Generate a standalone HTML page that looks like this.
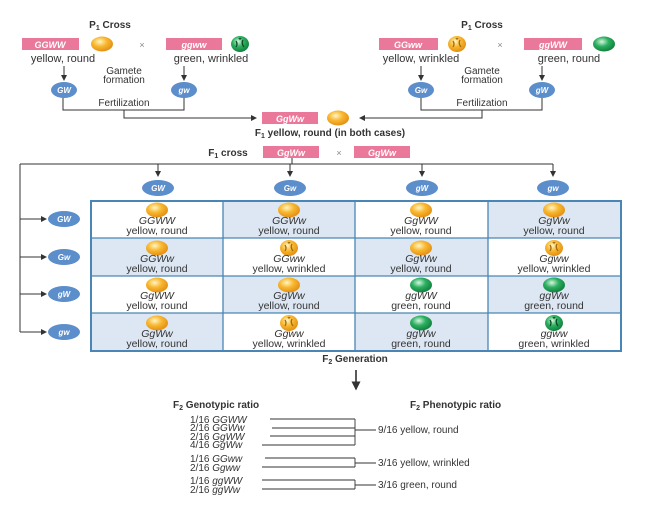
<!DOCTYPE html>
<html><head><meta charset="utf-8"><style>
body{margin:0;background:#fff;}
svg text{font-family:"Liberation Sans",sans-serif;fill:#333;}
</style></head><body>
<svg width="661" height="507" viewBox="0 0 661 507" xmlns="http://www.w3.org/2000/svg">
<defs>
<radialGradient id="y" cx="0.4" cy="0.35" r="0.7"><stop offset="0" stop-color="#fff6c8"/><stop offset="0.45" stop-color="#f9b830"/><stop offset="1" stop-color="#e08a10"/></radialGradient>
<radialGradient id="g" cx="0.4" cy="0.35" r="0.7"><stop offset="0" stop-color="#d8f5e0"/><stop offset="0.45" stop-color="#2cb060"/><stop offset="1" stop-color="#0d7a3a"/></radialGradient>
<marker id="a" markerWidth="6" markerHeight="6" refX="5" refY="3" orient="auto"><path d="M0,0L6,3L0,6z" fill="#333"/></marker>
<g id="py"><ellipse rx="11" ry="7.5" fill="url(#y)"/></g>
<g id="pg"><ellipse rx="11" ry="7.5" fill="url(#g)"/></g>
<g id="pyw"><ellipse rx="9" ry="8" fill="url(#y)"/><path d="M-4,-3q2,3 0,6M3,-4q-2,3 1,7M-1,-6q1,2 2,0" stroke="#a06a10" stroke-width="1.3" fill="none"/></g>
<g id="pgw"><ellipse rx="9" ry="8" fill="url(#g)"/><path d="M-4,-3q2,3 0,6M3,-4q-2,3 1,7M-1,-6q1,2 2,0" stroke="#0a4a22" stroke-width="1.3" fill="none"/></g>
</defs>
<g font-size="11" text-anchor="middle">
<!-- left P1 -->
<text x="110" y="28" font-weight="bold" font-size="10">P<tspan font-size="7" dy="2">1</tspan><tspan dy="-2"> Cross</tspan></text>
<rect x="22" y="38" width="57" height="12" fill="#e9789a"/><text x="50" y="48" fill="#fff" style="fill:#fff" font-weight="bold" font-style="italic" font-size="9">GGWW</text>
<use href="#py" x="102" y="44"/>
<text x="142" y="48" font-size="9" style="fill:#888">×</text>
<rect x="166" y="38" width="56" height="12" fill="#e9789a"/><text x="194" y="48" style="fill:#fff" font-weight="bold" font-style="italic" font-size="9">ggww</text>
<use href="#pgw" x="240" y="44"/>
<text x="63" y="62">yellow, round</text>
<text x="211" y="62">green, wrinkled</text>
<line x1="64" y1="66" x2="64" y2="80" stroke="#333" marker-end="url(#a)"/>
<line x1="184" y1="66" x2="184" y2="80" stroke="#333" marker-end="url(#a)"/>
<text x="124" y="74" font-size="10">Gamete</text><text x="124" y="83" font-size="10">formation</text>
<ellipse cx="64" cy="90" rx="13" ry="8" fill="#5b8ecb"/><text x="64" y="93" style="fill:#fff" font-weight="bold" font-style="italic" font-size="8">GW</text>
<ellipse cx="184" cy="90" rx="13" ry="8" fill="#5b8ecb"/><text x="184" y="93" style="fill:#fff" font-weight="bold" font-style="italic" font-size="8">gw</text>
<text x="124" y="106" font-size="10">Fertilization</text>
<path d="M63,98V110H184V98M124,110V118H256" stroke="#333" fill="none" marker-end="url(#a)"/>
<!-- right P1 -->
<text x="482" y="28" font-weight="bold" font-size="10">P<tspan font-size="7" dy="2">1</tspan><tspan dy="-2"> Cross</tspan></text>
<rect x="379" y="38" width="59" height="12" fill="#e9789a"/><text x="408" y="48" style="fill:#fff" font-weight="bold" font-style="italic" font-size="9">GGww</text>
<use href="#pyw" x="457" y="44"/>
<text x="500" y="48" font-size="9" style="fill:#888">×</text>
<rect x="524" y="38" width="58" height="12" fill="#e9789a"/><text x="553" y="48" style="fill:#fff" font-weight="bold" font-style="italic" font-size="9">ggWW</text>
<use href="#pg" x="604" y="44"/>
<text x="421" y="62">yellow, wrinkled</text>
<text x="569" y="62">green, round</text>
<line x1="421" y1="66" x2="421" y2="80" stroke="#333" marker-end="url(#a)"/>
<line x1="542" y1="66" x2="542" y2="80" stroke="#333" marker-end="url(#a)"/>
<text x="482" y="74" font-size="10">Gamete</text><text x="482" y="83" font-size="10">formation</text>
<ellipse cx="421" cy="90" rx="13" ry="8" fill="#5b8ecb"/><text x="421" y="93" style="fill:#fff" font-weight="bold" font-style="italic" font-size="8">Gw</text>
<ellipse cx="542" cy="90" rx="13" ry="8" fill="#5b8ecb"/><text x="542" y="93" style="fill:#fff" font-weight="bold" font-style="italic" font-size="8">gW</text>
<text x="482" y="106" font-size="10">Fertilization</text>
<path d="M421,98V110H542V98M482,110V118H360" stroke="#333" fill="none" marker-end="url(#a)"/>
<!-- F1 -->
<rect x="262" y="112" width="56" height="12" fill="#e9789a"/><text x="290" y="122" style="fill:#fff" font-weight="bold" font-style="italic" font-size="9">GgWw</text>
<use href="#py" x="338" y="118"/>
<text x="330" y="136" font-weight="bold" font-size="10">F<tspan font-size="7" dy="2">1</tspan><tspan dy="-2"> yellow, round (in both cases)</tspan></text>
<text x="228" y="156" font-weight="bold" font-size="10">F<tspan font-size="7" dy="2">1</tspan><tspan dy="-2"> cross</tspan></text>
<rect x="263" y="146" width="56" height="12" fill="#e9789a"/><text x="291" y="156" style="fill:#fff" font-weight="bold" font-style="italic" font-size="9">GgWw</text>
<text x="339" y="156" font-size="9" style="fill:#888">×</text>
<rect x="354" y="146" width="56" height="12" fill="#e9789a"/><text x="382" y="156" style="fill:#fff" font-weight="bold" font-style="italic" font-size="9">GgWw</text>
<path d="M292,158V164M20,164H553M20,164V332" stroke="#333" fill="none"/>
<g stroke="#333">
<line x1="158" y1="164" x2="158" y2="176" marker-end="url(#a)"/>
<line x1="290" y1="164" x2="290" y2="176" marker-end="url(#a)"/>
<line x1="422" y1="164" x2="422" y2="176" marker-end="url(#a)"/>
<line x1="553" y1="164" x2="553" y2="176" marker-end="url(#a)"/>
<line x1="20" y1="219" x2="46" y2="219" marker-end="url(#a)"/>
<line x1="20" y1="257" x2="46" y2="257" marker-end="url(#a)"/>
<line x1="20" y1="294" x2="46" y2="294" marker-end="url(#a)"/>
<line x1="20" y1="332" x2="46" y2="332" marker-end="url(#a)"/>
</g>
<g font-weight="bold" font-style="italic" font-size="8">
<ellipse cx="158" cy="188" rx="16" ry="8" fill="#5b8ecb"/><text x="158" y="191" style="fill:#fff">GW</text>
<ellipse cx="290" cy="188" rx="16" ry="8" fill="#5b8ecb"/><text x="290" y="191" style="fill:#fff">Gw</text>
<ellipse cx="422" cy="188" rx="16" ry="8" fill="#5b8ecb"/><text x="422" y="191" style="fill:#fff">gW</text>
<ellipse cx="553" cy="188" rx="16" ry="8" fill="#5b8ecb"/><text x="553" y="191" style="fill:#fff">gw</text>
<ellipse cx="64" cy="219" rx="16" ry="8" fill="#5b8ecb"/><text x="64" y="222" style="fill:#fff">GW</text>
<ellipse cx="64" cy="257" rx="16" ry="8" fill="#5b8ecb"/><text x="64" y="260" style="fill:#fff">Gw</text>
<ellipse cx="64" cy="294" rx="16" ry="8" fill="#5b8ecb"/><text x="64" y="297" style="fill:#fff">gW</text>
<ellipse cx="64" cy="332" rx="16" ry="8" fill="#5b8ecb"/><text x="64" y="335" style="fill:#fff">gw</text>
</g>
<!-- grid -->
<g fill="#dde7f3">
<rect x="223" y="201" width="132" height="37"/><rect x="488" y="201" width="133" height="37"/>
<rect x="91" y="238" width="132" height="38"/><rect x="355" y="238" width="133" height="38"/>
<rect x="223" y="276" width="132" height="37"/><rect x="488" y="276" width="133" height="37"/>
<rect x="91" y="313" width="132" height="38"/><rect x="355" y="313" width="133" height="38"/>
</g>
<g stroke="#4a86b5" stroke-width="1.3" fill="none">
<rect x="91" y="201" width="530" height="150" stroke-width="2"/>
<path d="M223,201V351M355,201V351M488,201V351M91,238H621M91,276H621M91,313H621"/>
</g>
<g font-size="10.5">
<use href="#py" x="157" y="210"/><text x="157" y="224" font-style="italic">GGWW</text><text x="157" y="234">yellow, round</text>
<use href="#py" x="289" y="210"/><text x="289" y="224" font-style="italic">GGWw</text><text x="289" y="234">yellow, round</text>
<use href="#py" x="421" y="210"/><text x="421" y="224" font-style="italic">GgWW</text><text x="421" y="234">yellow, round</text>
<use href="#py" x="554" y="210"/><text x="554" y="224" font-style="italic">GgWw</text><text x="554" y="234">yellow, round</text>

<use href="#py" x="157" y="248"/><text x="157" y="262" font-style="italic">GGWw</text><text x="157" y="272">yellow, round</text>
<use href="#pyw" x="289" y="248"/><text x="289" y="262" font-style="italic">GGww</text><text x="289" y="272">yellow, wrinkled</text>
<use href="#py" x="421" y="248"/><text x="421" y="262" font-style="italic">GgWw</text><text x="421" y="272">yellow, round</text>
<use href="#pyw" x="554" y="248"/><text x="554" y="262" font-style="italic">Ggww</text><text x="554" y="272">yellow, wrinkled</text>

<use href="#py" x="157" y="285"/><text x="157" y="299" font-style="italic">GgWW</text><text x="157" y="309">yellow, round</text>
<use href="#py" x="289" y="285"/><text x="289" y="299" font-style="italic">GgWw</text><text x="289" y="309">yellow, round</text>
<use href="#pg" x="421" y="285"/><text x="421" y="299" font-style="italic">ggWW</text><text x="421" y="309">green, round</text>
<use href="#pg" x="554" y="285"/><text x="554" y="299" font-style="italic">ggWw</text><text x="554" y="309">green, round</text>

<use href="#py" x="157" y="323"/><text x="157" y="337" font-style="italic">GgWw</text><text x="157" y="347">yellow, round</text>
<use href="#pyw" x="289" y="323"/><text x="289" y="337" font-style="italic">Ggww</text><text x="289" y="347">yellow, wrinkled</text>
<use href="#pg" x="421" y="323"/><text x="421" y="337" font-style="italic">ggWw</text><text x="421" y="347">green, round</text>
<use href="#pgw" x="554" y="323"/><text x="554" y="337" font-style="italic">ggww</text><text x="554" y="347">green, wrinkled</text>
</g>
<text x="355" y="362" font-weight="bold" font-size="10">F<tspan font-size="7" dy="2">2</tspan><tspan dy="-2"> Generation</tspan></text>
<line x1="356" y1="370" x2="356" y2="389" stroke="#222" stroke-width="1.5" marker-end="url(#a)"/>
</g>
<!-- ratios -->
<g font-size="10">
<text x="173" y="408" font-weight="bold">F<tspan font-size="7" dy="2">2</tspan><tspan dy="-2"> Genotypic ratio</tspan></text>
<text x="410" y="408" font-weight="bold">F<tspan font-size="7" dy="2">2</tspan><tspan dy="-2"> Phenotypic ratio</tspan></text>
<text x="190" y="423">1/16 <tspan font-style="italic">GGWW</tspan></text>
<text x="190" y="431">2/16 <tspan font-style="italic">GGWw</tspan></text>
<text x="190" y="440">2/16 <tspan font-style="italic">GgWW</tspan></text>
<text x="190" y="448">4/16 <tspan font-style="italic">GgWw</tspan></text>
<text x="190" y="462">1/16 <tspan font-style="italic">GGww</tspan></text>
<text x="190" y="471">2/16 <tspan font-style="italic">Ggww</tspan></text>
<text x="190" y="484">1/16 <tspan font-style="italic">ggWW</tspan></text>
<text x="190" y="493">2/16 <tspan font-style="italic">ggWw</tspan></text>
<text x="378" y="433">9/16 yellow, round</text>
<text x="378" y="466">3/16 yellow, wrinkled</text>
<text x="378" y="488">3/16 green, round</text>
</g>
<g stroke="#333" fill="none" stroke-width="0.9">
<path d="M270,419H355M272,428H355M270,436H355M262,445H355M355,419V445M355,430H376"/>
<path d="M265,458H355M262,467H355M355,458V467M355,463H376"/>
<path d="M262,480H355M262,489H355M355,480V489M355,485H376"/>
</g>
</svg>
</body></html>
